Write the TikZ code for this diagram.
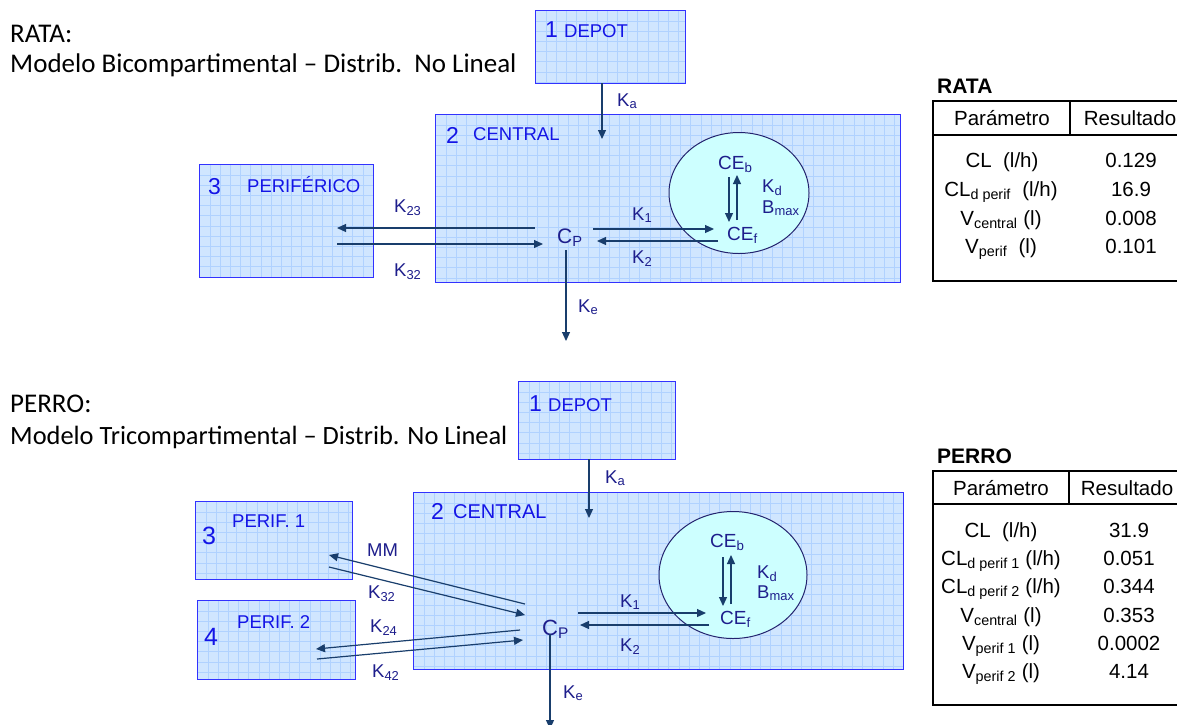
\documentclass[tikz,border=0pt]{standalone}
\usepackage{fontspec}
\setmainfont{Liberation Sans}
\newfontfamily\calib{Carlito}
\usetikzlibrary{arrows.meta,shapes.geometric}
\definecolor{boxfill}{RGB}{208,230,255}
\definecolor{gridc}{RGB}{176,210,255}
\definecolor{boxline}{RGB}{50,50,255}
\definecolor{arrowc}{RGB}{25,62,108}
\definecolor{labc}{RGB}{30,30,140}
\definecolor{boxtext}{RGB}{20,20,230}
\definecolor{ellfill}{RGB}{205,255,255}
\definecolor{elldraw}{RGB}{35,35,110}
\tikzset{
  comp/.style={draw=boxline, line width=1.4pt, fill=boxfill, anchor=north west, inner sep=0pt,
    path picture={
      \foreach \k in {1,...,50}{
        \draw[gridc, line width=0.7pt] ([xshift=\k*10.2pt]path picture bounding box.north west) -- ([xshift=\k*10.2pt]path picture bounding box.south west);
        \draw[gridc, line width=0.7pt] ([yshift=-\k*10.2pt]path picture bounding box.north west) -- ([yshift=-\k*10.2pt]path picture bounding box.north east);
      }}},
  bnum/.style={font=\fontsize{23}{26}\selectfont, text=boxtext, inner sep=0pt, anchor=base west},
  bname/.style={font=\fontsize{18.5}{21}\selectfont, text=boxtext, inner sep=0pt, anchor=base west},
  lab/.style={font=\fontsize{18.5}{21}\selectfont, text=labc, inner sep=0pt, anchor=base west},
  conc/.style={font=\fontsize{19}{21}\selectfont, text=labc, inner sep=0pt, anchor=base west},
  flow/.style={draw=arrowc, line width=1.2pt, -{Triangle[length=9pt,width=8pt]}},
  bind/.style={ellipse, draw=elldraw, line width=1pt, fill=ellfill, inner sep=0pt},
  title/.style={font=\calib\fontsize{27}{30}\selectfont, inner sep=0pt, anchor=base west},
  tbl/.style={font=\fontsize{20.5}{23}\selectfont, inner sep=0pt, anchor=base},
  tblhead/.style={font=\bfseries\fontsize{21}{24}\selectfont, inner sep=0pt, anchor=base west},
  tline/.style={line width=2pt, draw=black},
}
\begin{document}
\begin{tikzpicture}[x=1pt,y=-1pt]
\useasboundingbox[fill=white] (0,0) rectangle (1177,724);

% ================= RATA =================
\node[title] (tA1) at (10,42) {RATA:};
\node[title] (tA2) at (10,72) {Modelo Bicompartimental – Distrib.\ \ No Lineal};

\node[comp, minimum width=150pt, minimum height=73pt] (depA) at (535,10) {};
\node[bnum] (depAn) at (545,37) {1};
\node[bname] (depAt) at (564,37) {DEPOT};

\node[comp, minimum width=465pt, minimum height=168pt] (cenA) at (435,114) {};
\node[bnum] (cenAn) at (446,143) {2};
\node[bname] (cenAt) at (473,140) {CENTRAL};

\node[comp, minimum width=174pt, minimum height=113pt] (perA) at (199,164) {};
\node[bnum] (perAn) at (208,194) {3};
\node[bname] (perAt) at (247,192) {PERIFÉRICO};

\node[bind, minimum width=140pt, minimum height=121pt] (ellA) at (739,193) {};
\node[conc] (ceBA) at (718,169) {CE\textsubscript{b}};
\node[conc] (ceFA) at (727,240) {CE\textsubscript{f}};
\node[lab] (kdA) at (762,192) {K\textsubscript{d}};
\node[lab] (bmA) at (762,213) {B\textsubscript{max}};
\node[conc, font=\fontsize{21}{23}\selectfont] (cpA) at (557,243) {C\textsubscript{P}};

% coordinates
\coordinate (kaA1) at (602,83);
\coordinate (kaA2) at (602,139);
\coordinate (k23A1) at (535,228);
\coordinate (k23A2) at (337,228);
\coordinate (k32A1) at (337,244);
\coordinate (k32A2) at (543,244);
\coordinate (k1A1) at (593,229);
\coordinate (k1A2) at (714,229);
\coordinate (k2A1) at (718,241);
\coordinate (k2A2) at (597,241);
\coordinate (keA1) at (566,250);
\coordinate (keA2) at (566,341);
\coordinate (dnA1) at (729,177);
\coordinate (dnA2) at (729,222);
\coordinate (upA1) at (737,220);
\coordinate (upA2) at (737,175);

\draw[flow] (kaA1) -- (kaA2);
\draw[flow] (k23A1) -- (k23A2);
\draw[flow] (k32A1) -- (k32A2);
\draw[flow] (k1A1) -- (k1A2);
\draw[flow] (k2A1) -- (k2A2);
\draw[flow] (keA1) -- (keA2);
\draw[flow] (dnA1) -- (dnA2);
\draw[flow] (upA1) -- (upA2);

\node[lab] (lkaA) at (617,106) {K\textsubscript{a}};
\node[lab] (lk23A) at (394,212) {K\textsubscript{23}};
\node[lab] (lk32A) at (394,276) {K\textsubscript{32}};
\node[lab] (lk1A) at (632,220) {K\textsubscript{1}};
\node[lab] (lk2A) at (632,263) {K\textsubscript{2}};
\node[lab] (lkeA) at (578,312) {K\textsubscript{e}};

% table RATA
\node[tblhead] (thA) at (937,93) {RATA};
\draw[tline] (1200,101) -- (933,101) -- (933,281) -- (1200,281);
\draw[tline] (933,135) -- (1200,135);
\draw[tline] (1070,101) -- (1070,135);
\node[tbl] (hA1) at (1002,125) {Parámetro};
\node[tbl] (hA2) at (1130,125) {Resultado};
\node[tbl] (rA1) at (1002,167) {CL\ \ (l/h)};
\node[tbl] (vA1) at (1131,167) {0.129};
\node[tbl] (rA2) at (1001,196) {CL\textsubscript{d perif}\ \ (l/h)};
\node[tbl] (vA2) at (1131,196) {16.9};
\node[tbl] (rA3) at (1001,225) {V\textsubscript{central}\ (l)};
\node[tbl] (vA3) at (1131,225) {0.008};
\node[tbl] (rA4) at (1001,253) {V\textsubscript{perif}\ \ (l)};
\node[tbl] (vA4) at (1131,253) {0.101};

% ================= PERRO =================
\node[title] (tB1) at (10,412) {PERRO:};
\node[title, font=\calib\fontsize{26.4}{30}\selectfont] (tB2) at (10,444) {Modelo Tricompartimental – Distrib. No Lineal};

\node[comp, minimum width=157pt, minimum height=78pt] (depB) at (518,381) {};
\node[bnum] (depBn) at (529,411) {1};
\node[bname] (depBt) at (548,411) {DEPOT};

\node[comp, minimum width=490pt, minimum height=177pt] (cenB) at (413,492) {};
\node[bnum] (cenBn) at (431,519) {2};
\node[bname, font=\fontsize{20}{22}\selectfont] (cenBt) at (453,518) {CENTRAL};

\node[comp, minimum width=157pt, minimum height=78pt] (p1B) at (195,501) {};
\node[bnum, font=\fontsize{25}{28}\selectfont] (p1Bn) at (202,544) {3};
\node[bname] (p1Bt) at (232,527) {PERIF. 1};

\node[comp, minimum width=158pt, minimum height=79pt] (p2B) at (197,600) {};
\node[bnum, font=\fontsize{25}{28}\selectfont] (p2Bn) at (204,645) {4};
\node[bname] (p2Bt) at (237,628) {PERIF. 2};

\node[bind, minimum width=148pt, minimum height=127pt] (ellB) at (733,575) {};
\node[conc] (ceBB) at (710,547) {CE\textsubscript{b}};
\node[conc] (ceFB) at (720,624) {CE\textsubscript{f}};
\node[lab] (kdB) at (757,578) {K\textsubscript{d}};
\node[lab] (bmB) at (757,598) {B\textsubscript{max}};
\node[conc, font=\fontsize{22}{24}\selectfont] (cpB) at (542,635) {C\textsubscript{P}};

\coordinate (kaB1) at (589,459);
\coordinate (kaB2) at (589,518);
\coordinate (mmB1) at (525,604);
\coordinate (mmB2) at (329,555);
\coordinate (k32B1) at (329,567);
\coordinate (k32B2) at (525,615);
\coordinate (k24B1) at (520,630);
\coordinate (k24B2) at (316,649);
\coordinate (k42B1) at (317,659);
\coordinate (k42B2) at (523,640);
\coordinate (k1B1) at (578,613);
\coordinate (k1B2) at (706,613);
\coordinate (k2B1) at (709,625);
\coordinate (k2B2) at (580,625);
\coordinate (keB1) at (550,634);
\coordinate (keB2) at (550,729);
\coordinate (dnB1) at (723,557);
\coordinate (dnB2) at (723,606);
\coordinate (upB1) at (731,604);
\coordinate (upB2) at (731,555);

\draw[flow] (kaB1) -- (kaB2);
\draw[flow] (mmB1) -- (mmB2);
\draw[flow] (k32B1) -- (k32B2);
\draw[flow] (k24B1) -- (k24B2);
\draw[flow] (k42B1) -- (k42B2);
\draw[flow] (k1B1) -- (k1B2);
\draw[flow] (k2B1) -- (k2B2);
\draw[flow] (keB1) -- (keB2);
\draw[flow] (dnB1) -- (dnB2);
\draw[flow] (upB1) -- (upB2);

\node[lab] (lkaB) at (605,483) {K\textsubscript{a}};
\node[lab] (lmmB) at (367,556) {MM};
\node[lab] (lk32B) at (368,598) {K\textsubscript{32}};
\node[lab] (lk24B) at (370,632) {K\textsubscript{24}};
\node[lab] (lk42B) at (372,677) {K\textsubscript{42}};
\node[lab] (lk1B) at (620,607) {K\textsubscript{1}};
\node[lab] (lk2B) at (620,651) {K\textsubscript{2}};
\node[lab] (lkeB) at (563,698) {K\textsubscript{e}};

% table PERRO
\node[tblhead] (thB) at (937,463) {PERRO};
\draw[tline] (1200,471) -- (933,471) -- (933,705) -- (1200,705);
\draw[tline] (933,504) -- (1200,504);
\draw[tline] (1069,471) -- (1069,504);
\node[tbl] (hB1) at (1001,495) {Parámetro};
\node[tbl] (hB2) at (1127,495) {Resultado};
\node[tbl] (rB1) at (1001,537) {CL\ \ (l/h)};
\node[tbl] (vB1) at (1129,537) {31.9};
\node[tbl] (rB2) at (1001,565) {CL\textsubscript{d perif 1}\ (l/h)};
\node[tbl] (vB2) at (1129,565) {0.051};
\node[tbl] (rB3) at (1001,593) {CL\textsubscript{d perif 2}\ (l/h)};
\node[tbl] (vB3) at (1129,593) {0.344};
\node[tbl] (rB4) at (1001,622) {V\textsubscript{central}\ (l)};
\node[tbl] (vB4) at (1129,622) {0.353};
\node[tbl] (rB5) at (1001,650) {V\textsubscript{perif 1}\ (l)};
\node[tbl] (vB5) at (1129,650) {0.0002};
\node[tbl] (rB6) at (1001,678) {V\textsubscript{perif 2}\ (l)};
\node[tbl] (vB6) at (1129,678) {4.14};
\end{tikzpicture}
\end{document}
